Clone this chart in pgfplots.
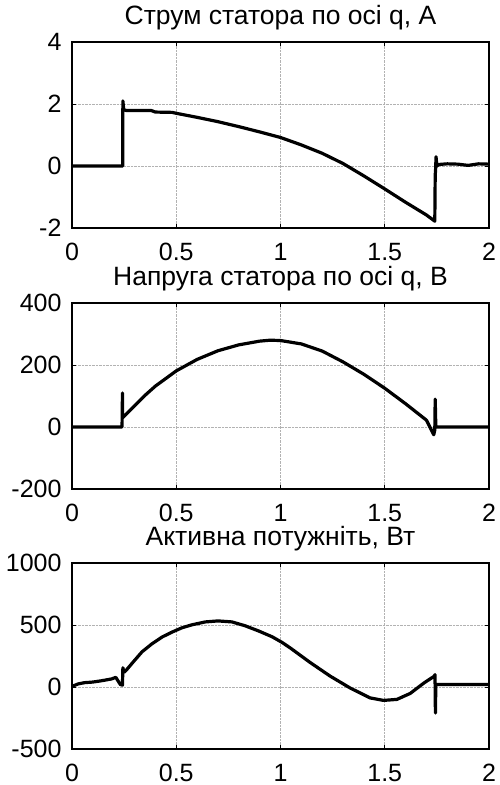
\documentclass[border=0pt]{standalone}
\usepackage{pgfplots}
\pgfplotsset{compat=1.18}
\usepackage{fontspec}
\setmainfont{Liberation Sans}

\pgfplotsset{
  scopestyle/.style={
    scale only axis,
    width=417pt, height=186pt,
    xmin=0, xmax=2,
    xtick={0,0.5,1,1.5,2},
    xticklabels={0,0.5,1,1.5,2},
    grid=major,
    major grid style={gray!60, densely dotted, line width=0.7pt},
    axis line style={black, line width=1.2pt},
    tick align=inside,
    major tick length=4pt,
    tick style={black, line width=1pt},
    xtick pos=both, ytick pos=both,
    /pgf/number format/assume math mode=true,
    ticklabel style={font=\fontsize{25}{28}\selectfont},
    title style={font=\fontsize{26.5}{30}\selectfont, anchor=base, at={(0.5,1)}, yshift=12pt},
    xticklabel style={anchor=base, yshift=-32pt},
    yticklabel style={xshift=-7pt},
  },
  curve/.style={black, line width=3.2pt, line join=round, mark=none},
}

\begin{document}
\begin{tikzpicture}
\path[use as bounding box] (0,0) rectangle (499pt,-785pt);

% stator q-axis current
\begin{axis}[scopestyle, at={(72pt,-228pt)}, anchor=south west,
  ymin=-2, ymax=4, ytick={-2,0,2,4}, yticklabels={-2,0,2,4},
  title={Струм статора по осі q, А}]
\addplot[curve] coordinates {
 (0,0) (0.243,0) (0.244,2.1) (0.248,1.82) (0.26,1.79) (0.3,1.79) (0.38,1.79)
 (0.4,1.74) (0.48,1.73) (0.5,1.70) (0.6,1.57) (0.7,1.43) (0.8,1.27) (0.9,1.10)
 (1.0,0.92) (1.1,0.68) (1.2,0.41) (1.3,0.08) (1.4,-0.32) (1.5,-0.74)
 (1.6,-1.17) (1.7,-1.58) (1.74,-1.78) (1.742,-0.3) (1.744,-0.1) (1.746,0.3)
 (1.75,0.0) (1.76,0.05) (1.8,0.07) (1.85,0.06) (1.9,0.02) (1.95,0.07) (2.0,0.06)
};
\end{axis}

% stator q-axis voltage
\begin{axis}[scopestyle, at={(72pt,-489pt)}, anchor=south west,
  ymin=-200, ymax=400, ytick={-200,0,200,400}, yticklabels={-200,0,200,400},
  title={Напруга статора по осі q, В}]
\addplot[curve] coordinates {
 (0,0) (0.238,0) (0.24,0) (0.242,110) (0.243,30) (0.25,35) (0.3,68) (0.35,102)
 (0.4,132) (0.5,181) (0.6,218) (0.7,246) (0.8,265) (0.9,277) (0.95,280) (1.0,279)
 (1.1,268) (1.2,245) (1.3,210) (1.4,170) (1.5,125) (1.6,75) (1.7,22) (1.735,-25)
 (1.74,-10) (1.742,90) (1.745,0) (1.76,0) (2.0,0)
};
\end{axis}

% active power
\begin{axis}[scopestyle, at={(72pt,-749pt)}, anchor=south west,
  ymin=-500, ymax=1000, ytick={-500,0,500,1000}, yticklabels={-500,0,500,1000},
  title={Активна потужніть, Вт}]
\addplot[curve] coordinates {
 (0,5) (0.03,25) (0.06,35) (0.1,40) (0.14,50) (0.19,65) (0.21,78) (0.232,20)
 (0.242,15) (0.244,155) (0.25,120) (0.26,135) (0.29,195) (0.336,284) (0.384,349)
 (0.432,403) (0.48,443) (0.528,478) (0.576,502) (0.64,525) (0.70,533) (0.767,525)
 (0.83,494) (0.895,452) (0.96,405) (1.007,360) (1.046,316) (1.142,198) (1.238,88)
 (1.334,-8) (1.43,-88) (1.494,-108) (1.558,-100) (1.622,-52) (1.686,30) (1.738,88)
 (1.741,100) (1.743,-210) (1.745,20) (1.76,20) (2.0,20)
};
\end{axis}
\end{tikzpicture}
\end{document}
